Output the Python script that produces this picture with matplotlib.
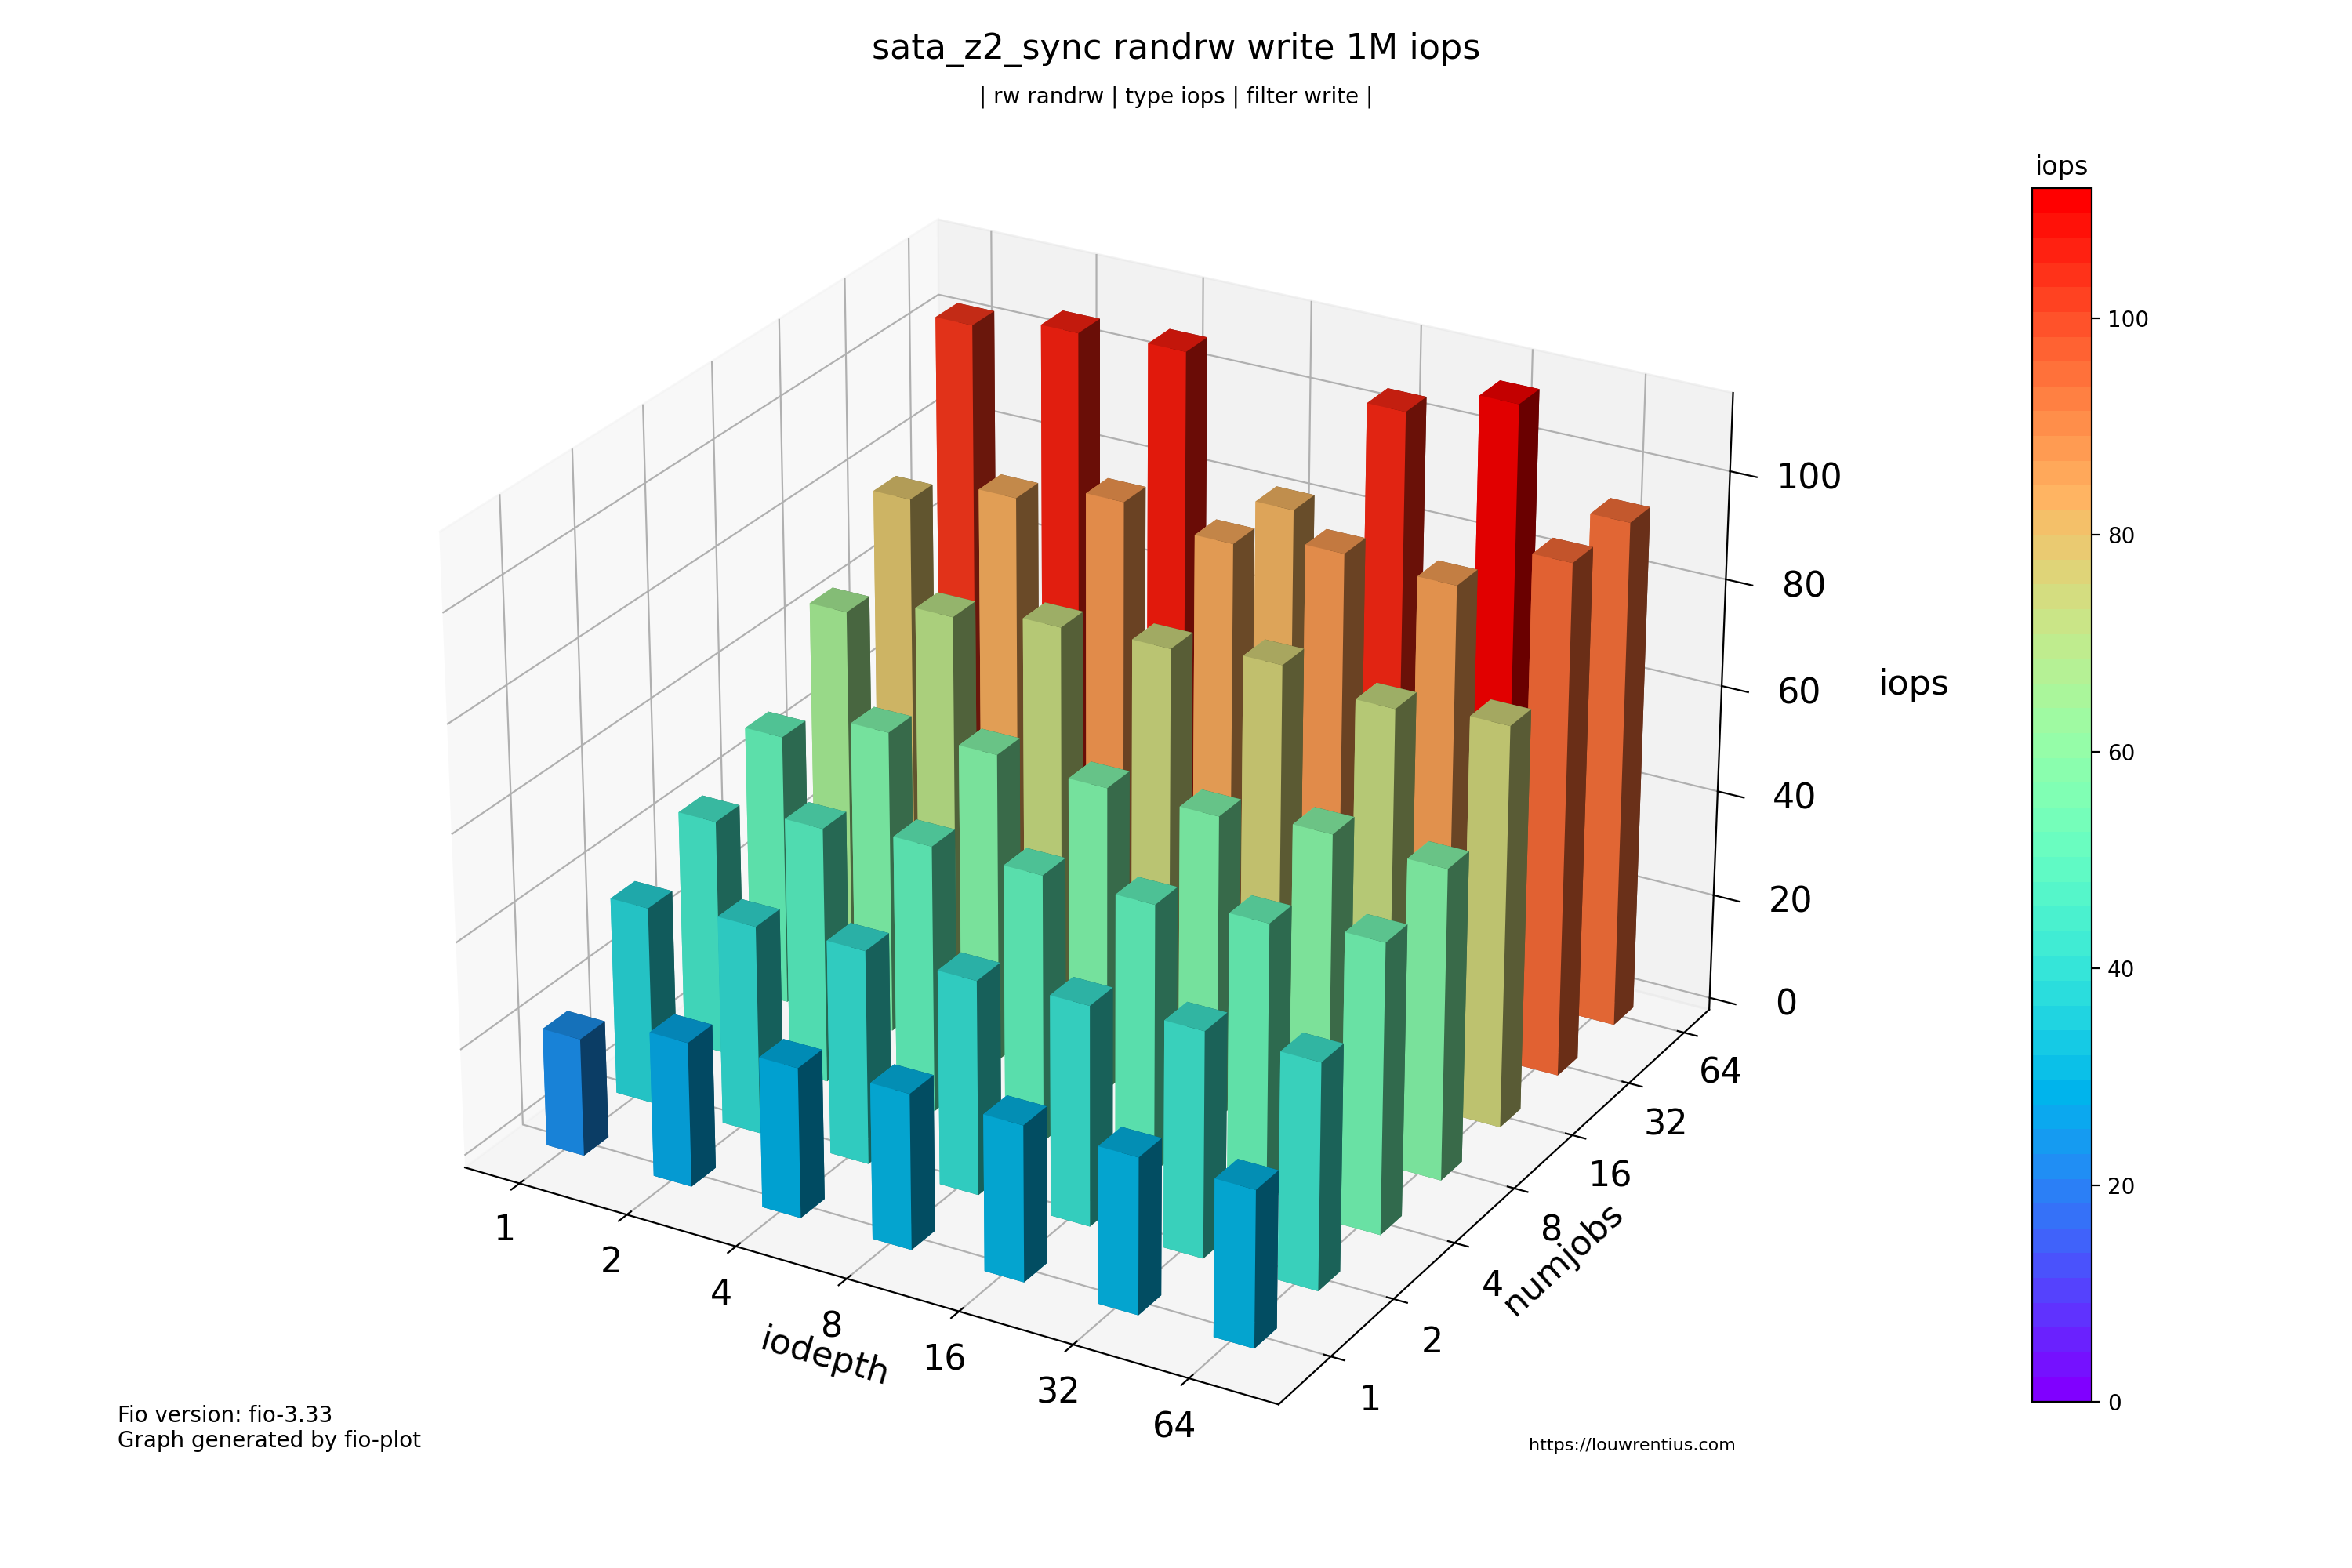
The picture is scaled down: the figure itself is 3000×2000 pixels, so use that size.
import numpy as np
import matplotlib
matplotlib.use("Agg")
import matplotlib.pyplot as plt
import matplotlib as mpl
from matplotlib import cm

# labels
iodepth = [1, 2, 4, 8, 16, 32, 64]
numjobs = [1, 2, 4, 8, 16, 32, 64]

# iops per numjobs row (front to back), one value per iodepth
nj_1 = [22, 27, 28, 29, 29, 29, 29]
nj_2 = [37, 39, 40, 40, 41, 42, 42]
nj_4 = [44, 48, 50, 50, 50, 52, 54]
nj_8 = [51, 57, 58, 57, 57, 59, 58]
nj_16 = [66, 70, 73, 74, 76, 73, 75]
nj_32 = [79, 84, 88, 85, 88, 87, 96]
nj_64 = [104, 107, 108, 83, 106, 112, 95]

title = "sata_z2_sync randrw write 1M iops"
subtitle = "| rw randrw | type iops | filter write |"
unit = "iops"

data = np.array([nj_1, nj_2, nj_4, nj_8, nj_16, nj_32, nj_64], dtype=float)

fig = plt.figure(figsize=(15, 10), dpi=200)
ax1 = fig.add_axes([0.039, 0.03, 0.84, 0.92], projection="3d")
ax1.view_init(elev=26, azim=-60)

lx = len(iodepth)
ly = len(numjobs)
size = 0.35

# bar positions, offset from the ticks like fio-plot does
xpos = np.arange(0, lx, 1)
ypos = np.arange(0, ly, 1)
xg, yg = np.meshgrid(xpos - (size / lx), ypos - (size * (ly / lx)))
xg = xg.flatten()
yg = yg.flatten()
zpos = np.zeros(lx * ly)
dx = size * np.ones_like(zpos)
dy = size * (ly / lx) * np.ones_like(zpos)
dz = data.flatten()
values = dz / dz.max()

cmap = plt.get_cmap("rainbow", lx * ly)
colors = cm.rainbow(values)
ax1.bar3d(xg, yg, zpos, dx, dy, dz, color=colors)

# colour bar on the right
norm = mpl.colors.Normalize(vmin=0, vmax=dz.max())
sm = plt.cm.ScalarMappable(cmap=cmap, norm=norm)
sm.set_array([])
cax = fig.add_axes([0.864, 0.106, 0.0254, 0.774])
cbar = fig.colorbar(sm, cax=cax)
cbar.ax.set_title(unit, fontsize=12)

ax1.set_xticks(xpos)
ax1.set_xticklabels(iodepth)
ax1.set_yticks(ypos)
ax1.set_yticklabels(numjobs)

fontsize = 16
ax1.set_xlabel("iodepth", fontsize=fontsize)
ax1.set_ylabel("numjobs", fontsize=fontsize)
ax1.set_zlabel(unit, fontsize=fontsize)
ax1.zaxis.labelpad = 34
ax1.zaxis.set_rotate_label(False)
ax1.tick_params(axis="both", labelsize=16)
ax1.tick_params(axis="x", pad=2.5)
ax1.tick_params(axis="y", pad=8)
ax1.tick_params(axis="z", pad=14)
for t in ax1.get_yticklabels():
    t.set_verticalalignment("center_baseline")
for t in ax1.get_zticklabels():
    t.set_verticalalignment("top")
ax1.zaxis._axinfo["tick"]["inward_factor"] = 0.4
ax1.zaxis._axinfo["tick"]["outward_factor"] = 0

fig.text(0.5, 0.968, title, ha="center", va="center", fontsize=16)
fig.text(0.5, 0.938, subtitle, ha="center", va="center", fontsize=10)
fig.text(0.05, 0.077, "Fio version: fio-3.33\nGraph generated by fio-plot", fontsize=10)
fig.text(0.65, 0.075, "https://louwrentius.com", fontsize=8)

fig.savefig("out.png", dpi=200)
